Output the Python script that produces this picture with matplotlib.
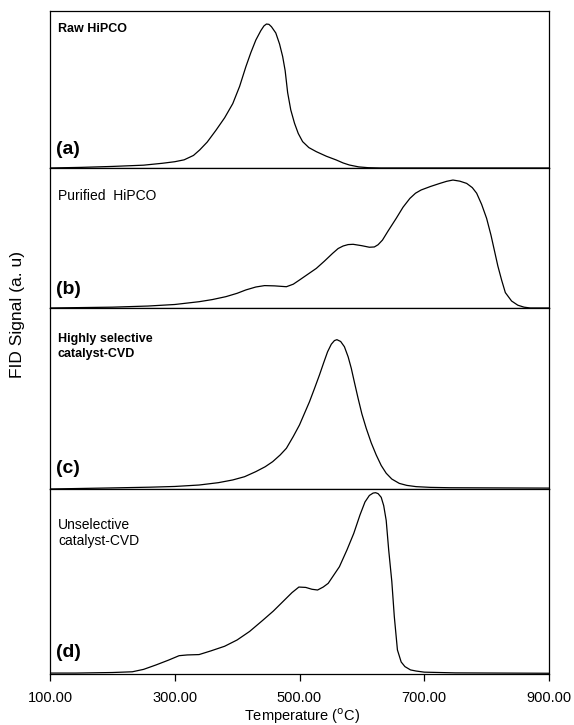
import numpy as np
import matplotlib
matplotlib.use("Agg")
import matplotlib.pyplot as plt

plt.rcParams['font.family'] = ['Liberation Sans', 'DejaVu Sans']

# temperature (C) and relative FID signal (fraction of panel height)
t_a = [100, 150, 200, 250, 280, 300, 315, 330, 340, 352, 366, 380, 393, 404, 414, 422, 430,
       438, 443, 447, 451, 455, 462, 468, 473, 477, 481, 486, 492, 498, 505, 515, 527, 543,
       559, 570, 580, 595, 610, 630, 900]
s_a = [0.0, 0.004, 0.010, 0.018, 0.030, 0.040, 0.052, 0.080, 0.115, 0.165, 0.240, 0.320,
       0.410, 0.520, 0.645, 0.735, 0.815, 0.875, 0.905, 0.917, 0.915, 0.900, 0.860, 0.790,
       0.710, 0.620, 0.480, 0.370, 0.285, 0.220, 0.168, 0.130, 0.104, 0.075, 0.051, 0.032,
       0.019, 0.007, 0.002, 0.0, 0.0]

t_b = [100, 150, 200, 257, 300, 339, 360, 382, 400, 414, 430, 444, 460, 479, 490, 500, 513,
       527, 540, 553, 562, 570, 578, 586, 600, 612, 620, 626, 633, 642, 655, 666, 677, 686,
       695, 710, 725, 736, 746, 757, 768, 777, 784, 792, 800, 807, 813, 818, 824, 830, 840,
       850, 860, 870, 900]
s_b = [0.0, 0.003, 0.006, 0.014, 0.025, 0.045, 0.060, 0.081, 0.105, 0.129, 0.150, 0.160,
       0.158, 0.152, 0.170, 0.200, 0.240, 0.283, 0.335, 0.390, 0.425, 0.443, 0.453, 0.455,
       0.445, 0.434, 0.436, 0.452, 0.485, 0.550, 0.640, 0.720, 0.783, 0.820, 0.843, 0.868,
       0.890, 0.905, 0.914, 0.906, 0.890, 0.860, 0.820, 0.740, 0.640, 0.520, 0.400, 0.300,
       0.200, 0.110, 0.050, 0.020, 0.006, 0.0, 0.0]

t_c = [100, 200, 260, 300, 339, 370, 393, 412, 430, 445, 457, 469, 479, 490, 500, 508, 516,
       524, 532, 539, 545, 551, 556, 560, 566, 572, 578, 583, 588, 594, 600, 607, 615, 623,
       631, 639, 648, 660, 672, 687, 710, 741, 900]
s_c = [0.0, 0.006, 0.010, 0.014, 0.022, 0.035, 0.050, 0.068, 0.096, 0.123, 0.151, 0.188,
       0.225, 0.290, 0.354, 0.418, 0.482, 0.555, 0.630, 0.700, 0.758, 0.800, 0.820, 0.825,
       0.815, 0.786, 0.730, 0.667, 0.590, 0.500, 0.415, 0.335, 0.255, 0.188, 0.130, 0.087,
       0.055, 0.031, 0.020, 0.013, 0.009, 0.007, 0.005]

t_d = [100, 141, 200, 232, 250, 270, 290, 307, 320, 339, 358, 380, 400, 420, 441, 458, 476,
       488, 499, 510, 520, 529, 538, 546, 555, 564, 576, 587, 597, 605, 612, 618, 622, 626,
       631, 635, 639, 643, 648, 652, 657, 663, 669, 678, 687, 700, 750, 900]
s_d = [0.005, 0.005, 0.008, 0.012, 0.025, 0.049, 0.075, 0.099, 0.103, 0.105, 0.125, 0.150,
       0.184, 0.230, 0.290, 0.340, 0.400, 0.440, 0.470, 0.468, 0.458, 0.454, 0.470, 0.490,
       0.535, 0.580, 0.670, 0.760, 0.860, 0.930, 0.965, 0.978, 0.980, 0.975, 0.955, 0.910,
       0.830, 0.670, 0.500, 0.310, 0.130, 0.065, 0.040, 0.022, 0.016, 0.010, 0.006, 0.004]

names = ['Raw HiPCO', 'Purified  HiPCO', 'Highly selective\ncatalyst-CVD',
         'Unselective\ncatalyst-CVD']
bold = [True, False, True, False]
name_size = [9, 10, 9, 10]
letters = ['(a)', '(b)', '(c)', '(d)']
xticks = [100, 300, 500, 700, 900]
xticklabels = ['100.00', '300.00', '500.00', '700.00', '900.00']

W, H = 574, 725
fig = plt.figure(figsize=(W / 100, H / 100), dpi=100)
gs = fig.add_gridspec(4, 1, left=50 / W, right=549 / W, top=1 - 11 / H, bottom=1 - 674 / H,
                      hspace=0, height_ratios=[157, 140, 181, 185])

series = [(t_a, s_a), (t_b, s_b), (t_c, s_c), (t_d, s_d)]
name_y = [0.885, 0.80, 0.787, 0.762]
letter_y = [0.121, 0.129, 0.116, 0.114]

for i, (t, s) in enumerate(series):
    ax = fig.add_subplot(gs[i])
    ax.plot(t, s, color='black', lw=0.9)
    ax.set_xlim(100, 900)
    ax.set_ylim(0, 1)
    ax.set_yticks([])
    for sp in ax.spines.values():
        sp.set_linewidth(0.9)
        sp.set_color('black')
    ax.text(0.016, name_y[i], names[i], transform=ax.transAxes, ha='left', va='center',
            fontsize=name_size[i], fontweight='bold' if bold[i] else 'normal',
            linespacing=1.25)
    ax.text(0.012, letter_y[i], letters[i], transform=ax.transAxes, ha='left', va='center',
            fontsize=14, fontweight='bold')
    if i < 3:
        ax.set_xticks([])
    else:
        ax.set_xticks(xticks)
        ax.set_xticklabels(xticklabels)
        ax.tick_params(axis='x', direction='out', length=5, width=0.9, pad=7, labelsize=10.5)

fig.text(302 / W, 1 - 716 / H, 'Temperature ($^{\\mathrm{o}}$C)', ha='center', va='center',
         fontsize=10.5)
fig.text(18 / W, 1 - 315 / H, 'FID Signal (a. u)', rotation=90, ha='center', va='center',
         fontsize=12.5)

fig.savefig('out.png', dpi=100)
